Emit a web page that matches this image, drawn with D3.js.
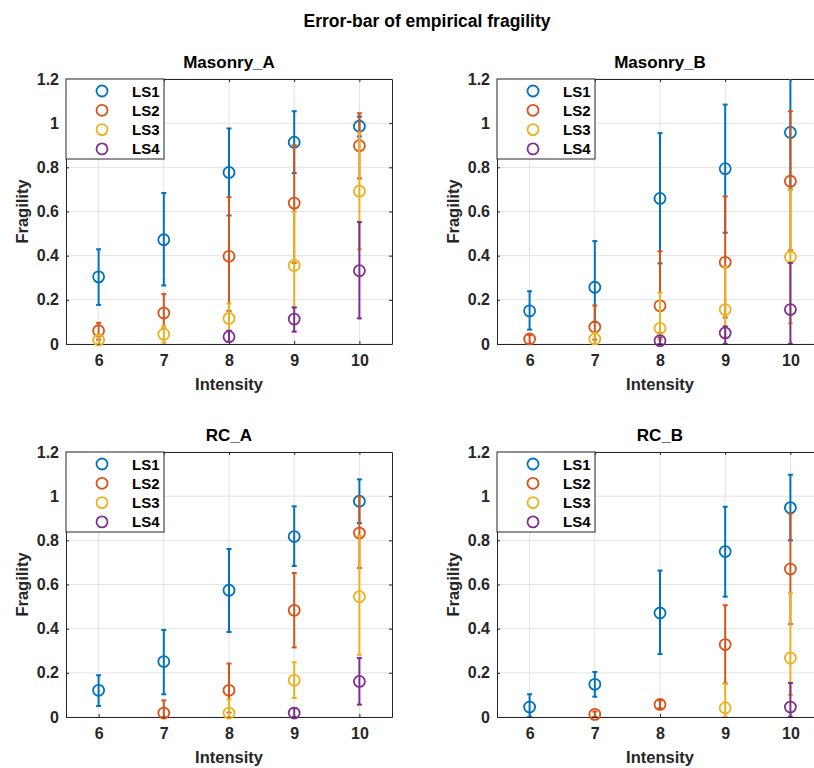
<!DOCTYPE html>
<html>
<head>
<meta charset="utf-8">
<script src="https://cdn.jsdelivr.net/npm/d3@7"></script>
<style>
  html, body { margin: 0; padding: 0; background: #fff; }
  svg { display: block; font-family: "Liberation Sans", Arial, Helvetica, sans-serif; }
</style>
</head>
<body>
<svg id="fig" width="814" height="768"></svg>
<script>
// Intensity levels on the x axis and limit-state series names
const intensities = [6, 7, 8, 9, 10];
const limitStates = ["LS1", "LS2", "LS3", "LS4"];
const yTicks = [0, 0.2, 0.4, 0.6, 0.8, 1, 1.2];
const panelTitles = ["Masonry_A", "Masonry_B", "RC_A", "RC_B"];

// Empirical fragility (point estimate) per panel, per limit state, per intensity
const masonryA_val = [
  [0.304, 0.472, 0.777, 0.914, 0.986],
  [0.060, 0.140, 0.397, 0.638, 0.898],
  [0.018, 0.044, 0.116, 0.356, 0.692],
  [null, null, 0.033, 0.113, 0.332]
];
const masonryA_lo = [
  [0.177, 0.265, 0.582, 0.774, 0.940],
  [0.020, 0.070, 0.150, 0.367, 0.750],
  [0.000, 0.006, 0.060, 0.168, 0.429],
  [null, null, 0.010, 0.056, 0.116]
];
const masonryA_hi = [
  [0.429, 0.684, 0.976, 1.054, 1.030],
  [0.096, 0.226, 0.665, 0.900, 1.045],
  [0.040, 0.081, 0.183, 0.600, 0.958],
  [null, null, 0.060, 0.165, 0.552]
];

const masonryB_val = [
  [0.150, 0.257, 0.659, 0.794, 0.958],
  [0.023, 0.077, 0.173, 0.370, 0.737],
  [null, 0.023, 0.071, 0.156, 0.394],
  [null, null, 0.015, 0.050, 0.156]
];
const masonryB_lo = [
  [0.065, 0.100, 0.365, 0.504, 0.700],
  [0.000, 0.020, 0.050, 0.120, 0.424],
  [null, 0.000, 0.020, 0.030, 0.093],
  [null, null, 0.000, 0.000, 0.000]
];
const masonryB_hi = [
  [0.239, 0.466, 0.955, 1.084, 1.250],
  [0.040, 0.174, 0.420, 0.668, 1.054],
  [null, 0.050, 0.232, 0.350, 0.699],
  [null, null, 0.030, 0.080, 0.367]
];

const rcA_val = [
  [0.121, 0.251, 0.574, 0.817, 0.977],
  [null, 0.018, 0.121, 0.483, 0.833],
  [null, null, 0.018, 0.166, 0.545],
  [null, null, null, 0.018, 0.161]
];
const rcA_lo = [
  [0.050, 0.103, 0.385, 0.684, 0.878],
  [null, 0.000, 0.020, 0.315, 0.675],
  [null, null, 0.000, 0.086, 0.282],
  [null, null, null, 0.000, 0.056]
];
const rcA_hi = [
  [0.189, 0.394, 0.761, 0.954, 1.076],
  [null, 0.075, 0.242, 0.652, 0.999],
  [null, null, 0.080, 0.248, 0.820],
  [null, null, null, 0.040, 0.267]
];

const rcB_val = [
  [0.045, 0.148, 0.471, 0.749, 0.948],
  [null, 0.012, 0.057, 0.328, 0.670],
  [null, null, null, 0.041, 0.267],
  [null, null, null, null, 0.045]
];
const rcB_lo = [
  [0.000, 0.092, 0.285, 0.545, 0.800],
  [null, 0.000, 0.040, 0.152, 0.421],
  [null, null, null, 0.000, 0.100],
  [null, null, null, null, 0.000]
];
const rcB_hi = [
  [0.103, 0.204, 0.663, 0.952, 1.097],
  [null, 0.025, 0.075, 0.506, 0.921],
  [null, null, null, 0.150, 0.562],
  [null, null, null, null, 0.154]
];

const panelData = [
  { val: masonryA_val, lo: masonryA_lo, hi: masonryA_hi },
  { val: masonryB_val, lo: masonryB_lo, hi: masonryB_hi },
  { val: rcA_val, lo: rcA_lo, hi: rcA_hi },
  { val: rcB_val, lo: rcB_lo, hi: rcB_hi }
];

const colors = ["#0072BD", "#D95319", "#EDB120", "#7E2F8E"];

// Subplot geometry
const plotW = 326, plotH = 265;
const origins = [[66, 79], [497, 79], [66, 452], [497, 452]];
const axisColor = "#262626";
const gridColor = "#e3e3e3";

const svg = d3.select("#fig");

svg.append("text")
  .attr("x", 427).attr("y", 27)
  .attr("text-anchor", "middle")
  .attr("font-size", 17.5).attr("font-weight", "bold")
  .attr("fill", "#000")
  .text("Error-bar of empirical fragility");

const x = d3.scaleLinear().domain([5.5, 10.5]).range([0, plotW]);
const y = d3.scaleLinear().domain([0, 1.2]).range([plotH, 0]);

panelData.forEach((pd, pi) => {
  const [ox, oy] = origins[pi];
  const g = svg.append("g").attr("transform", `translate(${ox},${oy})`);

  const clipId = "clip" + pi;
  g.append("clipPath").attr("id", clipId)
    .append("rect").attr("width", plotW).attr("height", plotH);

  // grid
  g.append("g").selectAll("line").data(intensities).join("line")
    .attr("x1", d => x(d)).attr("x2", d => x(d))
    .attr("y1", 0).attr("y2", plotH)
    .attr("stroke", gridColor).attr("stroke-width", 1);
  g.append("g").selectAll("line").data(yTicks).join("line")
    .attr("x1", 0).attr("x2", plotW)
    .attr("y1", d => y(d)).attr("y2", d => y(d))
    .attr("stroke", gridColor).attr("stroke-width", 1);

  // axes with inward ticks and bold labels
  const xAxis = d3.axisBottom(x).tickValues(intensities).tickSizeInner(-3).tickSizeOuter(0).tickPadding(11)
    .tickFormat(d3.format("d"));
  const yAxis = d3.axisLeft(y).tickValues(yTicks).tickSizeInner(-3).tickSizeOuter(0).tickPadding(7)
    .tickFormat(d3.format("~g"));
  const xa = g.append("g").attr("transform", `translate(0,${plotH})`).call(xAxis);
  const ya = g.append("g").call(yAxis);
  const xTop = g.append("g").call(d3.axisTop(x).tickValues(intensities).tickSizeInner(-3).tickSizeOuter(0).tickFormat(""));
  const yRight = g.append("g").attr("transform", `translate(${plotW},0)`)
    .call(d3.axisRight(y).tickValues(yTicks).tickSizeInner(-3).tickSizeOuter(0).tickFormat(""));
  [xa, ya, xTop, yRight].forEach(a => {
    a.select(".domain").attr("stroke", axisColor).attr("stroke-width", 1);
    a.selectAll(".tick line").attr("stroke", axisColor);
    a.selectAll(".tick text").attr("fill", axisColor)
      .attr("font-size", 16).attr("font-weight", "bold")
      .attr("font-family", "Liberation Sans, Arial, sans-serif");
  });

  // axis labels and subplot title
  g.append("text")
    .attr("x", plotW / 2).attr("y", plotH + 46)
    .attr("text-anchor", "middle")
    .attr("font-size", 16.5).attr("font-weight", "bold").attr("fill", axisColor)
    .text("Intensity");
  g.append("text")
    .attr("transform", `translate(${-38},${plotH / 2}) rotate(-90)`)
    .attr("text-anchor", "middle")
    .attr("font-size", 16.5).attr("font-weight", "bold").attr("fill", axisColor)
    .text("Fragility");
  g.append("text")
    .attr("x", plotW / 2).attr("y", -11)
    .attr("text-anchor", "middle")
    .attr("font-size", 17).attr("font-weight", "bold").attr("fill", "#000")
    .text(panelTitles[pi]);

  // error bars and markers per limit state
  limitStates.forEach((ls, si) => {
    const pts = intensities.map((iv, k) => ({
      x: iv, v: pd.val[si][k], lo: pd.lo[si][k], hi: pd.hi[si][k]
    })).filter(p => p.v !== null);
    const sg = g.append("g");
    const bars = sg.append("g").attr("clip-path", `url(#${clipId})`)
      .attr("stroke", colors[si]).attr("stroke-width", 2);
    bars.selectAll("line.bar").data(pts).join("line").attr("class", "bar")
      .attr("x1", d => x(d.x)).attr("x2", d => x(d.x))
      .attr("y1", d => y(d.lo)).attr("y2", d => y(d.hi));
    bars.selectAll("line.capHi").data(pts).join("line").attr("class", "capHi")
      .attr("x1", d => x(d.x) - 2.5).attr("x2", d => x(d.x) + 2.5)
      .attr("y1", d => y(d.hi)).attr("y2", d => y(d.hi));
    bars.selectAll("line.capLo").data(pts).join("line").attr("class", "capLo")
      .attr("x1", d => x(d.x) - 2.5).attr("x2", d => x(d.x) + 2.5)
      .attr("y1", d => y(d.lo)).attr("y2", d => y(d.lo));
    sg.selectAll("circle").data(pts).join("circle")
      .attr("cx", d => x(d.x)).attr("cy", d => y(d.v)).attr("r", 5.5)
      .attr("fill", "none").attr("stroke", colors[si]).attr("stroke-width", 1.8);
  });

  // legend in the upper-left corner
  const lg = g.append("g");
  lg.append("rect").attr("x", 0).attr("y", 0).attr("width", 98).attr("height", 80)
    .attr("fill", "#fff").attr("stroke", axisColor).attr("stroke-width", 1);
  limitStates.forEach((ls, si) => {
    const ry = 12 + si * 19.3;
    lg.append("circle").attr("cx", 36).attr("cy", ry).attr("r", 5.5)
      .attr("fill", "none").attr("stroke", colors[si]).attr("stroke-width", 1.8);
    lg.append("text").attr("x", 66).attr("y", ry + 5.5)
      .attr("font-size", 15).attr("font-weight", "bold").attr("fill", "#000")
      .text(ls);
  });
});
</script>
</body>
</html>
